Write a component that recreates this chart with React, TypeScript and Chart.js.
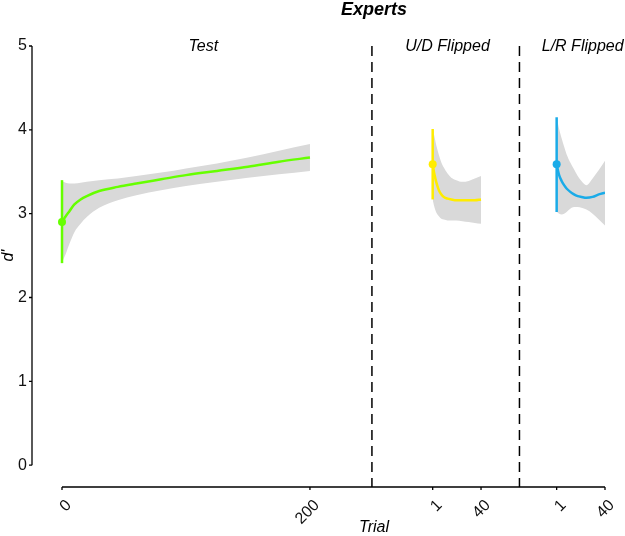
import React, { useEffect, useRef } from 'react';
import { Chart, registerables } from 'chart.js';

Chart.register(...registerables);

const FONT = "'Liberation Sans', Arial, Helvetica, sans-serif";

const TITLE = 'Experts';
const SECTIONS = ['Test', 'U/D Flipped', 'L/R Flipped'];
const X_TITLE = 'Trial';
const Y_TITLE = "d'";

// position of each section's trial 0 on the shared x axis
const SECTION_OFFSETS = [0, 298, 398];
const DIVIDERS = [250, 369];

const X_TICK_SECTIONS = [0, 0, 1, 1, 2, 2];
const X_TICK_TRIALS = [0, 200, 1, 40, 1, 40];
const Y_TICKS = [0, 1, 2, 3, 4, 5];

// Test
const TEST_TRIALS = [0, 3, 6, 10, 15, 20, 30, 45, 60, 80, 100, 125, 150, 175, 200];
const TEST_FIT = [2.9, 2.97, 3.03, 3.11, 3.17, 3.21, 3.27, 3.32, 3.36, 3.41, 3.46, 3.51, 3.56, 3.62, 3.67];
const TEST_UPPER = [3.39, 3.37, 3.36, 3.36, 3.37, 3.38, 3.4, 3.42, 3.45, 3.49, 3.54, 3.6, 3.67, 3.75, 3.83];
const TEST_LOWER = [2.42, 2.52, 2.64, 2.78, 2.88, 2.96, 3.07, 3.16, 3.22, 3.28, 3.33, 3.38, 3.43, 3.47, 3.51];
const TEST_START = [0, 2.9];
const TEST_ERR = [2.41, 3.4];

// U/D Flipped
const UD_TRIALS = [1, 2, 3, 4, 6, 8, 10, 13, 16, 20, 25, 30, 35, 40];
const UD_FIT = [3.59, 3.5, 3.43, 3.37, 3.28, 3.23, 3.2, 3.18, 3.17, 3.16, 3.16, 3.16, 3.16, 3.17];
const UD_UPPER = [4.01, 3.95, 3.88, 3.81, 3.7, 3.61, 3.55, 3.48, 3.43, 3.4, 3.38, 3.39, 3.42, 3.45];
const UD_LOWER = [3.17, 3.1, 3.05, 3.01, 2.97, 2.94, 2.93, 2.92, 2.92, 2.92, 2.91, 2.9, 2.89, 2.88];
const UD_START = [1, 3.59];
const UD_ERR = [3.17, 4.01];

// L/R Flipped
const LR_TRIALS = [1, 2, 3, 5, 7, 9, 12, 15, 18, 21, 25, 30, 35, 40];
const LR_FIT = [3.59, 3.52, 3.46, 3.39, 3.34, 3.3, 3.26, 3.23, 3.21, 3.2, 3.19, 3.2, 3.23, 3.25];
const LR_UPPER = [4.15, 4.08, 4.01, 3.9, 3.8, 3.71, 3.61, 3.53, 3.45, 3.39, 3.34, 3.42, 3.52, 3.63];
const LR_LOWER = [3.03, 3.01, 3.0, 2.99, 3.0, 3.02, 3.06, 3.08, 3.08, 3.07, 3.05, 3.0, 2.93, 2.86];
const LR_START = [1, 3.59];
const LR_ERR = [3.02, 4.15];

const GREEN = '#66ff00';
const YELLOW = '#ffec00';
const BLUE = '#1aabe8';
const BAND = '#d9d9d9';

function pts(trials: number[], vals: number[], off: number) {
  return trials.map((t, i) => ({ x: off + t, y: vals[i] }));
}

function series(
  trials: number[], fit: number[], upper: number[], lower: number[],
  start: number[], err: number[], off: number, color: string
) {
  const base = { pointRadius: 0, pointHoverRadius: 0, cubicInterpolationMode: 'monotone' as const };
  return [
    { ...base, data: pts(trials, lower, off), borderWidth: 0, borderColor: 'transparent', fill: false, order: 5 },
    { ...base, data: pts(trials, upper, off), borderWidth: 0, borderColor: 'transparent', backgroundColor: BAND, fill: '-1', order: 5 },
    { ...base, data: pts(trials, fit, off), borderWidth: 2.5, borderColor: color, fill: false, order: 3 },
    { ...base, data: [{ x: off + start[0], y: err[0] }, { x: off + start[0], y: err[1] }], borderWidth: 2.5, borderColor: color, fill: false, order: 2 },
    { data: [{ x: off + start[0], y: start[1] }], pointRadius: 4, pointBackgroundColor: color, pointBorderWidth: 0, borderColor: color, showLine: false, order: 1 },
  ];
}

const decor = {
  id: 'decor',
  afterDraw(chart: any) {
    const { ctx, chartArea } = chart;
    const x = chart.scales.x;
    const y = chart.scales.y;
    ctx.save();
    ctx.strokeStyle = '#000';
    ctx.lineWidth = 1.3;
    // y axis
    const ax = chartArea.left;
    ctx.beginPath();
    ctx.moveTo(ax, y.getPixelForValue(Y_TICKS[Y_TICKS.length - 1]));
    ctx.lineTo(ax, y.getPixelForValue(Y_TICKS[0]));
    Y_TICKS.forEach((v) => {
      const py = y.getPixelForValue(v);
      ctx.moveTo(ax - 3, py);
      ctx.lineTo(ax, py);
    });
    // x axis
    const ay = chartArea.bottom;
    const xs = X_TICK_TRIALS.map((t, i) => x.getPixelForValue(SECTION_OFFSETS[X_TICK_SECTIONS[i]] + t));
    ctx.moveTo(xs[0], ay);
    ctx.lineTo(xs[xs.length - 1], ay);
    xs.forEach((px) => {
      ctx.moveTo(px, ay);
      ctx.lineTo(px, ay + 3);
    });
    ctx.stroke();
    // dividers
    ctx.beginPath();
    ctx.setLineDash([10, 6]);
    ctx.lineWidth = 1.5;
    DIVIDERS.forEach((d) => {
      const px = x.getPixelForValue(d);
      ctx.moveTo(px, chartArea.top);
      ctx.lineTo(px, ay);
    });
    ctx.stroke();
    ctx.setLineDash([]);
    // texts
    ctx.fillStyle = '#000';
    ctx.textAlign = 'center';
    ctx.textBaseline = 'middle';
    ctx.font = `italic bold 18px ${FONT}`;
    ctx.fillText(TITLE, 374, 10);
    ctx.font = `italic 16px ${FONT}`;
    const secCenters = [114, 311, 420];
    SECTIONS.forEach((s, i) => ctx.fillText(s, x.getPixelForValue(secCenters[i]), 47));
    ctx.fillText(X_TITLE, 374, 528);
    ctx.save();
    ctx.translate(9, (y.getPixelForValue(0) + y.getPixelForValue(5)) / 2);
    ctx.rotate(-Math.PI / 2);
    ctx.fillText(Y_TITLE, 0, 0);
    ctx.restore();
    ctx.restore();
  },
};

export default function App() {
  const ref = useRef<HTMLCanvasElement>(null);
  useEffect(() => {
    const datasets: any[] = [
      ...series(TEST_TRIALS, TEST_FIT, TEST_UPPER, TEST_LOWER, TEST_START, TEST_ERR, SECTION_OFFSETS[0], GREEN),
      ...series(UD_TRIALS, UD_FIT, UD_UPPER, UD_LOWER, UD_START, UD_ERR, SECTION_OFFSETS[1], YELLOW),
      ...series(LR_TRIALS, LR_FIT, LR_UPPER, LR_LOWER, LR_START, LR_ERR, SECTION_OFFSETS[2], BLUE),
    ];
    const chart = new Chart(ref.current as HTMLCanvasElement, {
      type: 'line',
      data: { datasets },
      options: {
        animation: false,
        responsive: false,
        events: [],
        layout: { padding: { top: 46, right: 20, left: 0, bottom: 0 } },
        plugins: { legend: { display: false }, tooltip: { enabled: false } },
        scales: {
          x: {
            type: 'linear',
            bounds: 'data',
            min: -24.2,
            max: 438,
            grid: { display: false, drawTicks: false },
            border: { display: false },
            afterFit: (s: any) => {
              s.height = 49;
              s.paddingLeft = 0;
              s.paddingRight = 0;
            },
            afterBuildTicks: (s: any) => {
              s.ticks = X_TICK_TRIALS.map((t, i) => ({ value: SECTION_OFFSETS[X_TICK_SECTIONS[i]] + t }));
            },
            ticks: {
              autoSkip: false,
              minRotation: 45,
              maxRotation: 45,
              padding: 9,
              labelOffset: 7,
              color: '#111',
              font: { family: FONT, size: 16 },
              callback: (_v: any, i: number) => String(X_TICK_TRIALS[i]),
            },
          },
          y: {
            type: 'linear',
            bounds: 'data',
            min: -0.26,
            max: 5,
            grid: { display: false, drawTicks: false },
            border: { display: false },
            afterFit: (s: any) => {
              s.width = 32;
              s.paddingTop = 0;
              s.paddingBottom = 0;
            },
            afterBuildTicks: (s: any) => {
              s.ticks = Y_TICKS.map((v) => ({ value: v }));
            },
            ticks: {
              padding: 5,
              color: '#111',
              font: { family: FONT, size: 16 },
              callback: (v: any) => String(v),
            },
          },
        },
      },
      plugins: [decor],
    });
    return () => chart.destroy();
  }, []);
  return (
    <div style={{ position: 'fixed', left: 0, top: 0, width: 625, height: 536, background: '#fff' }}>
      <canvas ref={ref} width={625} height={536} style={{ display: 'block', width: 625, height: 536 }} />
    </div>
  );
}
